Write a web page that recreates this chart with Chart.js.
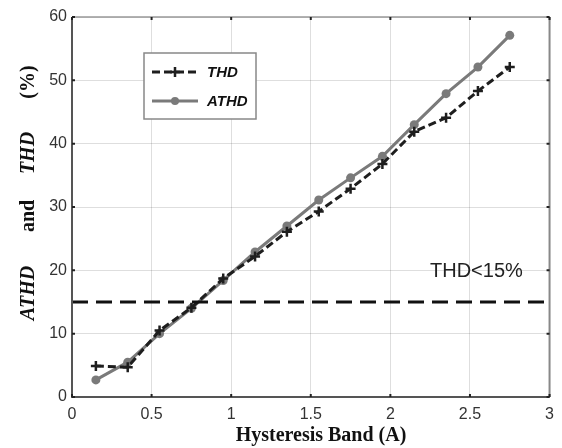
<!DOCTYPE html>
<html>
<head>
<meta charset="utf-8">
<script src="https://cdn.jsdelivr.net/npm/chart.js@4/dist/chart.umd.min.js"></script>
<style>
  html, body { margin: 0; padding: 0; background: #fff; }
  #wrap { width: 562px; height: 448px; }
</style>
</head>
<body>
<div id="wrap"><canvas id="thdChart" width="562" height="448"></canvas></div>
<script>
// Données
const bandValues = [0.15, 0.35, 0.55, 0.75, 0.95, 1.15, 1.35, 1.55, 1.75, 1.95, 2.15, 2.35, 2.55, 2.75];
const thdValues  = [4.9, 4.7, 10.5, 14.1, 18.7, 22.2, 26.1, 29.3, 32.9, 36.8, 41.9, 44.1, 48.3, 52.1];
const athdValues = [2.7, 5.5, 10.0, 14.0, 18.4, 22.9, 27.0, 31.1, 34.6, 38.0, 43.0, 47.9, 52.1, 57.1];
const limitX = [0, 3];
const limitY = [15, 15];
const xTicks = [0, 0.5, 1, 1.5, 2, 2.5, 3];
const yTicks = [0, 10, 20, 30, 40, 50, 60];

const toPoints = (xs, ys) => xs.map((x, i) => ({x: x, y: ys[i]}));

// Cadre, graduations intérieures, légende et titres
const decorPlugin = {
    id: 'decor',
    afterDraw(chart) {
        const ctx = chart.ctx;
        const a = chart.chartArea;
        const xs = chart.scales.x, ys = chart.scales.y;
        ctx.save();
        // cadre
        ctx.strokeStyle = '#999';
        ctx.lineWidth = 1.5;
        ctx.beginPath();
        ctx.moveTo(a.left, a.top); ctx.lineTo(a.right, a.top);
        ctx.stroke();
        ctx.strokeStyle = '#888';
        ctx.lineWidth = 2;
        ctx.beginPath();
        ctx.moveTo(a.right, a.top); ctx.lineTo(a.right, a.bottom);
        ctx.stroke();
        ctx.strokeStyle = '#555';
        ctx.beginPath();
        ctx.moveTo(a.left, a.top); ctx.lineTo(a.left, a.bottom); ctx.lineTo(a.right, a.bottom);
        ctx.stroke();
        // graduations
        ctx.strokeStyle = '#222';
        ctx.lineWidth = 2;
        xTicks.forEach(v => {
            const px = xs.getPixelForValue(v);
            ctx.beginPath();
            ctx.moveTo(px, a.bottom); ctx.lineTo(px, a.bottom - 3);
            ctx.moveTo(px, a.top); ctx.lineTo(px, a.top + 3);
            ctx.stroke();
        });
        yTicks.forEach(v => {
            const py = ys.getPixelForValue(v);
            ctx.beginPath();
            ctx.moveTo(a.left, py); ctx.lineTo(a.left + 3, py);
            ctx.moveTo(a.right, py); ctx.lineTo(a.right - 3, py);
            ctx.stroke();
        });

        // texte du seuil
        ctx.fillStyle = '#222';
        ctx.font = '20px Arial, "Liberation Sans", sans-serif';
        ctx.textAlign = 'left';
        ctx.textBaseline = 'alphabetic';
        ctx.fillText('THD<15%', 430, 277);

        // légende
        const lx = 144, ly = 53, lw = 112, lh = 66;
        ctx.fillStyle = '#fff';
        ctx.fillRect(lx, ly, lw, lh);
        ctx.strokeStyle = '#888';
        ctx.lineWidth = 1.5;
        ctx.strokeRect(lx, ly, lw, lh);
        const items = [chart.data.datasets[0], chart.data.datasets[1]];
        items.forEach((ds, i) => {
            const y = 72 + i * 29;
            ctx.strokeStyle = ds.borderColor;
            ctx.lineWidth = 3;
            ctx.setLineDash(ds.borderDash || []);
            ctx.beginPath();
            ctx.moveTo(152, y); ctx.lineTo(198, y);
            ctx.stroke();
            ctx.setLineDash([]);
            if (ds.pointStyle === 'cross') {
                ctx.lineWidth = 2.5;
                ctx.beginPath();
                ctx.moveTo(175, y - 5); ctx.lineTo(175, y + 5);
                ctx.moveTo(170, y); ctx.lineTo(180, y);
                ctx.stroke();
            } else {
                ctx.fillStyle = ds.pointBackgroundColor;
                ctx.beginPath();
                ctx.arc(175, y, 4, 0, Math.PI * 2);
                ctx.fill();
            }
            ctx.fillStyle = '#111';
            ctx.font = 'italic bold 15px Arial, "Liberation Sans", sans-serif';
            ctx.textBaseline = 'middle';
            ctx.fillText(ds.label, 207, y + 1);
        });

        // titre de l'axe x
        ctx.fillStyle = '#111';
        ctx.font = 'bold 20px "Liberation Serif", "Times New Roman", serif';
        ctx.textAlign = 'center';
        ctx.textBaseline = 'alphabetic';
        ctx.fillText('Hysteresis Band (A)', 321, 441);

        // titre de l'axe y (mots espacés, certains en italique)
        const words = [
            {t: 'ATHD', c: 293, it: true},
            {t: 'and', c: 216, it: false},
            {t: 'THD', c: 153, it: true},
            {t: '(%)', c: 82, it: false}
        ];
        words.forEach(w => {
            ctx.save();
            ctx.translate(29, w.c);
            ctx.rotate(-Math.PI / 2);
            ctx.font = (w.it ? 'italic ' : '') + 'bold 20px "Liberation Serif", "Times New Roman", serif';
            ctx.textAlign = 'center';
            ctx.textBaseline = 'middle';
            ctx.fillText(w.t, 0, 0);
            ctx.restore();
        });
        ctx.restore();
    }
};

const ctx = document.getElementById('thdChart').getContext('2d');
new Chart(ctx, {
    type: 'line',
    data: {
        datasets: [{
            label: 'THD',
            data: toPoints(bandValues, thdValues),
            borderColor: '#1e1e1e',
            borderWidth: 3,
            borderDash: [8, 4],
            pointStyle: 'cross',
            pointRadius: 5,
            pointBorderWidth: 2.5,
            pointBorderColor: '#1e1e1e',
            pointBackgroundColor: '#1e1e1e',
            tension: 0,
            order: 1
        }, {
            label: 'ATHD',
            data: toPoints(bandValues, athdValues),
            borderColor: '#7a7a7a',
            borderWidth: 3,
            pointStyle: 'circle',
            pointRadius: 4.5,
            pointBorderWidth: 0,
            pointBackgroundColor: '#7a7a7a',
            tension: 0,
            order: 2
        }, {
            label: 'limit',
            data: toPoints(limitX, limitY),
            borderColor: '#111',
            borderWidth: 3,
            borderDash: [16, 8],
            pointRadius: 0,
            order: 0
        }]
    },
    options: {
        responsive: false,
        animation: false,
        layout: { padding: { top: 17, right: 5, left: 0, bottom: 0 } },
        plugins: {
            legend: { display: false },
            tooltip: { enabled: false }
        },
        scales: {
            x: {
                type: 'linear',
                min: 0, max: 3,
                afterFit: s => { s.height = 51; },
                afterBuildTicks: s => { s.ticks = xTicks.map(v => ({value: v})); },
                grid: { color: 'rgba(0,0,0,0.13)', lineWidth: 1, drawTicks: false },
                border: { display: false },
                ticks: {
                    color: '#333',
                    font: { family: 'Arial, "Liberation Sans", sans-serif', size: 16 },
                    padding: 8,
                    maxRotation: 0,
                    callback: v => String(v)
                }
            },
            y: {
                type: 'linear',
                min: 0, max: 60,
                afterFit: s => { s.width = 72; },
                afterBuildTicks: s => { s.ticks = yTicks.map(v => ({value: v})); },
                grid: { color: 'rgba(0,0,0,0.13)', lineWidth: 1, drawTicks: false },
                border: { display: false },
                ticks: {
                    color: '#333',
                    font: { family: 'Arial, "Liberation Sans", sans-serif', size: 16 },
                    padding: 5
                }
            }
        }
    },
    plugins: [decorPlugin]
});
</script>
</body>
</html>
